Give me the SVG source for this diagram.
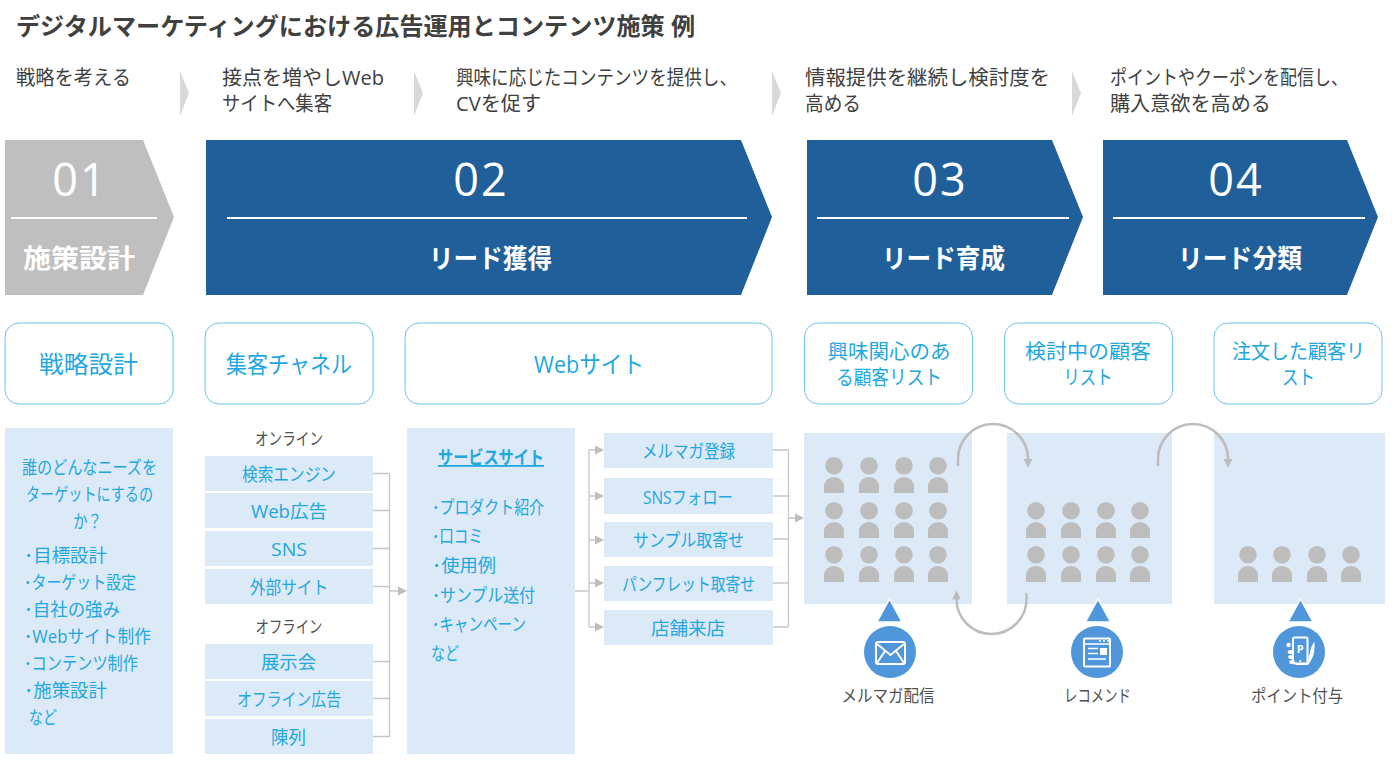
<svg xmlns="http://www.w3.org/2000/svg" width="1400" height="760" viewBox="0 0 1400 760">
<style>
text{font-family:"Open Sans","Noto Sans CJK JP",sans-serif;}
.t{font-size:24px;font-weight:700;fill:#404040}
.h{font-size:20px;fill:#404040}
.num{font-size:45px;fill:#fff;text-anchor:middle;letter-spacing:2px}
.lab{font-size:26px;font-weight:700;fill:#fff;text-anchor:middle}
.card{fill:#fff;stroke:#6cc6ec;stroke-width:1}
.ct{font-size:24px;fill:#22a7e0;text-anchor:middle}
.ct2{font-size:20px;fill:#22a7e0;text-anchor:middle}
.panel{fill:#dce9f6}
.b{font-size:18px;fill:#22a7e0}
.m{text-anchor:middle}
.g{font-size:17px;fill:#505050;text-anchor:middle}
.chev{fill:#d9d9d9}
.stage{fill:#215f9a}
.rule{stroke:#fff;stroke-width:2}
.wire{fill:none;stroke:#c6c6c6;stroke-width:1.3}
.loop{fill:none;stroke:#bdbdbd;stroke-width:2.5}
.ah{fill:#bdbdbd}
.p{fill:#bdbdbd}
.tri{fill:#4f96da;stroke:#fff;stroke-width:1.5;stroke-linejoin:miter}
.disc{fill:#4f96da}
.ico{fill:none;stroke:#fff;stroke-width:2}
.thin{fill:none;stroke:#fff;stroke-width:1.6}
</style>
<defs>
<g id="person"><circle cx="0" cy="-27.3" r="8.8"/><path d="M-10 0V-7A10 9 0 0 1 10 -7V0Z"/></g>
<polygon id="tip" points="-9,-4.5 0,0 -9,4.5"/>
</defs>

<text class="t" x="16" y="35" textLength="679" lengthAdjust="spacingAndGlyphs">デジタルマーケティングにおける広告運用とコンテンツ施策 例</text>

<g id="intro">
<text class="h" x="16" y="85" textLength="115" lengthAdjust="spacingAndGlyphs">戦略を考える</text>
<text class="h"><tspan x="222" y="85" textLength="162" lengthAdjust="spacingAndGlyphs">接点を増やしWeb</tspan><tspan x="222" y="111" textLength="110" lengthAdjust="spacingAndGlyphs">サイトへ集客</tspan></text>
<text class="h"><tspan x="456" y="85" textLength="281" lengthAdjust="spacingAndGlyphs">興味に応じたコンテンツを提供し、</tspan><tspan x="456" y="111" textLength="85" lengthAdjust="spacingAndGlyphs">CVを促す</tspan></text>
<text class="h"><tspan x="805" y="85" textLength="245" lengthAdjust="spacingAndGlyphs">情報提供を継続し検討度を</tspan><tspan x="805" y="111" textLength="56" lengthAdjust="spacingAndGlyphs">高める</tspan></text>
<text class="h"><tspan x="1110" y="85" textLength="238" lengthAdjust="spacingAndGlyphs">ポイントやクーポンを配信し、</tspan><tspan x="1110" y="111" textLength="161" lengthAdjust="spacingAndGlyphs">購入意欲を高める</tspan></text>
<polygon class="chev" points="180,71 189,93 180,116"/>
<polygon class="chev" points="414,71 423,93 414,116"/>
<polygon class="chev" points="772,71 781,93 772,116"/>
<polygon class="chev" points="1072,71 1081,93 1072,116"/>
</g>

<g id="stage-01">
<polygon points="5,140 143,140 174,217 143,295 5,295" fill="#bfbfbf"/>
<line class="rule" x1="11" y1="218" x2="157" y2="218"/>
<text class="num" x="80" y="196">01</text>
<text class="lab" x="79" y="268" textLength="112" lengthAdjust="spacingAndGlyphs">施策設計</text>
</g>
<g id="stage-02">
<polygon class="stage" points="206,140 741,140 772,217 741,295 206,295"/>
<line class="rule" x1="227" y1="218" x2="747" y2="218"/>
<text class="num" x="481" y="196">02</text>
<text class="lab" x="490.500" y="268" textLength="123" lengthAdjust="spacingAndGlyphs">リード獲得</text>
</g>
<g id="stage-03">
<polygon class="stage" points="807,140 1052,140 1083,217 1052,295 807,295"/>
<line class="rule" x1="817" y1="218" x2="1069" y2="218"/>
<text class="num" x="940" y="196">03</text>
<text class="lab" x="943.500" y="268" textLength="123" lengthAdjust="spacingAndGlyphs">リード育成</text>
</g>
<g id="stage-04">
<polygon class="stage" points="1103,140 1347,140 1378,217 1347,295 1103,295"/>
<line class="rule" x1="1113" y1="218" x2="1365" y2="218"/>
<text class="num" x="1236" y="196">04</text>
<text class="lab" x="1240" y="268" textLength="124" lengthAdjust="spacingAndGlyphs">リード分類</text>
</g>

<g id="card-strategy"><rect class="card" x="5" y="323" width="168" height="81" rx="14"/><text class="ct" x="88.500" y="373" textLength="99" lengthAdjust="spacingAndGlyphs">戦略設計</text></g>
<g id="card-channel"><rect class="card" x="205" y="323" width="168" height="81" rx="14"/><text class="ct" x="289" y="373" textLength="126" lengthAdjust="spacingAndGlyphs">集客チャネル</text></g>
<g id="card-web"><rect class="card" x="405" y="323" width="367" height="81" rx="14"/><text class="ct" x="589" y="373" textLength="110" lengthAdjust="spacingAndGlyphs">Webサイト</text></g>
<g id="card-interest"><rect class="card" x="804.500" y="323" width="168" height="81" rx="14"/><text class="ct2"><tspan x="889" y="359" textLength="123" lengthAdjust="spacingAndGlyphs">興味関心のあ</tspan><tspan x="889" y="385" textLength="106" lengthAdjust="spacingAndGlyphs">る顧客リスト</tspan></text></g>
<g id="card-consider"><rect class="card" x="1004.500" y="323" width="168" height="81" rx="14"/><text class="ct2"><tspan x="1088" y="359" textLength="126" lengthAdjust="spacingAndGlyphs">検討中の顧客</tspan><tspan x="1088" y="385" textLength="49" lengthAdjust="spacingAndGlyphs">リスト</tspan></text></g>
<g id="card-ordered"><rect class="card" x="1214" y="323" width="168" height="81" rx="14"/><text class="ct2"><tspan x="1298.500" y="359" textLength="133" lengthAdjust="spacingAndGlyphs">注文した顧客リ</tspan><tspan x="1298.500" y="385" textLength="33" lengthAdjust="spacingAndGlyphs">スト</tspan></text></g>

<g id="panel-plan">
<rect class="panel" x="5" y="428" width="168" height="326"/>
<text class="b" x="22" y="474" textLength="135" lengthAdjust="spacingAndGlyphs">誰のどんなニーズを</text>
<text class="b" x="26" y="501" textLength="127" lengthAdjust="spacingAndGlyphs">ターゲットにするの</text>
<text class="b" x="73" y="528" textLength="29" lengthAdjust="spacingAndGlyphs">か？</text>
<text class="b" x="24" y="562" textLength="83" lengthAdjust="spacingAndGlyphs">･目標設計</text>
<text class="b" x="24" y="589" textLength="112" lengthAdjust="spacingAndGlyphs">･ターゲット設定</text>
<text class="b" x="24" y="616" textLength="96" lengthAdjust="spacingAndGlyphs">･自社の強み</text>
<text class="b" x="24" y="643" textLength="127" lengthAdjust="spacingAndGlyphs">･Webサイト制作</text>
<text class="b" x="24" y="670" textLength="114" lengthAdjust="spacingAndGlyphs">･コンテンツ制作</text>
<text class="b" x="24" y="697" textLength="83" lengthAdjust="spacingAndGlyphs">･施策設計</text>
<text class="b" x="29" y="724" textLength="28" lengthAdjust="spacingAndGlyphs">など</text>
</g>

<g id="channels">
<text class="g" x="289" y="445" textLength="68" lengthAdjust="spacingAndGlyphs">オンライン</text>
<text class="g" x="289" y="633" textLength="67" lengthAdjust="spacingAndGlyphs">オフライン</text>
<g id="ch-search"><rect class="panel" x="205" y="456" width="168" height="35"/><text class="b m" x="289" y="481" textLength="94" lengthAdjust="spacingAndGlyphs">検索エンジン</text></g>
<g id="ch-ads"><rect class="panel" x="205" y="493" width="168" height="35"/><text class="b m" x="289" y="518" textLength="76" lengthAdjust="spacingAndGlyphs">Web広告</text></g>
<g id="ch-sns"><rect class="panel" x="205" y="531" width="168" height="35"/><text class="b m" x="289" y="556" textLength="36" lengthAdjust="spacingAndGlyphs">SNS</text></g>
<g id="ch-ext"><rect class="panel" x="205" y="569" width="168" height="35"/><text class="b m" x="289" y="594" textLength="78" lengthAdjust="spacingAndGlyphs">外部サイト</text></g>
<g id="ch-expo"><rect class="panel" x="205" y="644" width="168" height="35"/><text class="b m" x="288.500" y="669" textLength="55" lengthAdjust="spacingAndGlyphs">展示会</text></g>
<g id="ch-offads"><rect class="panel" x="205" y="681" width="168" height="35"/><text class="b m" x="289" y="706" textLength="104" lengthAdjust="spacingAndGlyphs">オフライン広告</text></g>
<g id="ch-display"><rect class="panel" x="205" y="719" width="168" height="35"/><text class="b m" x="288.500" y="744" textLength="35" lengthAdjust="spacingAndGlyphs">陳列</text></g>
</g>

<g id="panel-site">
<rect class="panel" x="407" y="428" width="168" height="326"/>
<text class="b" x="438" y="464" font-weight="700" text-decoration="underline" textLength="106" lengthAdjust="spacingAndGlyphs">サービスサイト</text>
<text class="b" x="432" y="514" textLength="112" lengthAdjust="spacingAndGlyphs">･プロダクト紹介</text>
<text class="b" x="432" y="543" textLength="51" lengthAdjust="spacingAndGlyphs">･口コミ</text>
<text class="b" x="432" y="572" textLength="64" lengthAdjust="spacingAndGlyphs">･使用例</text>
<text class="b" x="432" y="602" textLength="103" lengthAdjust="spacingAndGlyphs">･サンプル送付</text>
<text class="b" x="432" y="631" textLength="94" lengthAdjust="spacingAndGlyphs">･キャンペーン</text>
<text class="b" x="431" y="660" textLength="28" lengthAdjust="spacingAndGlyphs">など</text>
</g>

<g id="actions">
<g id="act-mail"><rect class="panel" x="604" y="433" width="169" height="35"/><text class="b m" x="688.500" y="458" textLength="93" lengthAdjust="spacingAndGlyphs">メルマガ登録</text></g>
<g id="act-sns"><rect class="panel" x="604" y="478" width="169" height="36"/><text class="b m" x="688" y="504" textLength="90" lengthAdjust="spacingAndGlyphs">SNSフォロー</text></g>
<g id="act-sample"><rect class="panel" x="604" y="522" width="169" height="35"/><text class="b m" x="688.500" y="547" textLength="111" lengthAdjust="spacingAndGlyphs">サンプル取寄せ</text></g>
<g id="act-leaflet"><rect class="panel" x="604" y="566" width="169" height="35"/><text class="b m" x="688.500" y="591" textLength="133" lengthAdjust="spacingAndGlyphs">パンフレット取寄せ</text></g>
<g id="act-store"><rect class="panel" x="604" y="610" width="169" height="35"/><text class="b m" x="688" y="635" textLength="74" lengthAdjust="spacingAndGlyphs">店舗来店</text></g>
</g>

<g id="segment-1">
<rect class="panel" x="804" y="433" width="168" height="171"/>
<g class="p">
<use href="#person" x="834" y="493"/><use href="#person" x="869" y="493"/><use href="#person" x="904" y="493"/><use href="#person" x="938" y="493"/>
<use href="#person" x="834" y="538"/><use href="#person" x="869" y="538"/><use href="#person" x="904" y="538"/><use href="#person" x="938" y="538"/>
<use href="#person" x="834" y="582"/><use href="#person" x="869" y="582"/><use href="#person" x="904" y="582"/><use href="#person" x="938" y="582"/>
</g>
<polygon class="tri" points="889.500,599 902,622 877,622"/>
<circle class="disc" cx="890" cy="652" r="26"/>
<rect class="ico" x="876" y="642" width="29" height="22" rx="2"/>
<path class="ico" d="M877 644L890.500 655L904 644M877 663L885 651M904 663L896 651"/>
<text class="g" x="888" y="702" textLength="93" lengthAdjust="spacingAndGlyphs">メルマガ配信</text>
</g>
<g id="segment-2">
<rect class="panel" x="1007" y="433" width="165" height="171"/>
<g class="p">
<use href="#person" x="1036" y="538"/><use href="#person" x="1071" y="538"/><use href="#person" x="1106" y="538"/><use href="#person" x="1140" y="538"/>
<use href="#person" x="1036" y="582"/><use href="#person" x="1071" y="582"/><use href="#person" x="1106" y="582"/><use href="#person" x="1140" y="582"/>
</g>
<polygon class="tri" points="1098,599 1110.500,622 1085.500,622"/>
<circle class="disc" cx="1097" cy="652" r="26"/>
<rect class="ico" x="1084" y="638.500" width="26" height="28" rx="1"/>
<path class="thin" d="M1084 644H1110M1088 648.500H1098M1088 653.500H1098M1088 659H1106"/>
<circle cx="1100" cy="641" r="1" fill="#fff"/><circle cx="1104" cy="641" r="1" fill="#fff"/><circle cx="1108" cy="641" r="1" fill="#fff"/>
<rect x="1100" y="648" width="7" height="7" fill="#fff"/>
<text class="g" x="1097.500" y="702" textLength="67" lengthAdjust="spacingAndGlyphs">レコメンド</text>
</g>
<g id="segment-3">
<rect class="panel" x="1214" y="433" width="171" height="171"/>
<g class="p">
<use href="#person" x="1248" y="582"/><use href="#person" x="1282" y="582"/><use href="#person" x="1317" y="582"/><use href="#person" x="1351" y="582"/>
</g>
<polygon class="tri" points="1300.500,599 1313,622 1288,622"/>
<circle class="disc" cx="1299" cy="652" r="26"/>
<rect class="ico" x="1293" y="637.500" width="14.500" height="26" rx="1.500"/>
<text x="1300.300" y="652.500" text-anchor="middle" font-size="11" font-weight="700" fill="#fff">P</text>
<circle cx="1300.300" cy="661" r="1" fill="#fff"/>
<path d="M1308.500 658C1310.500 652 1310.500 646 1314.500 642C1315 650 1314 658 1308 665L1296 665L1296 664H1306Z" fill="#fff"/>
<ellipse cx="1288.500" cy="645" rx="2.200" ry="2.200" fill="#fff"/><ellipse cx="1290.500" cy="652" rx="2.800" ry="2" fill="#fff"/><ellipse cx="1291" cy="657" rx="2.800" ry="2" fill="#fff"/><ellipse cx="1292" cy="662" rx="2.800" ry="2" fill="#fff"/>
<text class="g" x="1297" y="702" textLength="92" lengthAdjust="spacingAndGlyphs">ポイント付与</text>
</g>

<g id="connectors">
<path class="wire" d="M373 473.500H389.500M373 510.500H389.500M373 548.500H389.500M373 586.500H389.500M373 661.500H389.500M373 698.500H389.500M373 736.500H389.500M389.500 473.500V736.500M389.500 591H398"/>
<use class="ah" href="#tip" x="407" y="591"/>
<path class="wire" d="M575 591H589M589 450V627M589 450H595M589 496H595M589 540H595M589 583H595M589 627H595"/>
<use class="ah" href="#tip" x="604" y="450"/><use class="ah" href="#tip" x="604" y="496"/><use class="ah" href="#tip" x="604" y="540"/><use class="ah" href="#tip" x="604" y="583"/><use class="ah" href="#tip" x="604" y="627"/>
<path class="wire" d="M773 450H788.500M773 496H788.500M773 539H788.500M773 583H788.500M773 627H788.500M788.500 450V627M788.500 518H795"/>
<use class="ah" href="#tip" x="804" y="518"/>
<path class="loop" d="M958 466V459A35 35 0 0 1 1028 459"/>
<polygon class="ah" points="1023.700,459 1032.300,459 1028,468"/>
<path class="loop" d="M1026.500 593V599A35 35 0 0 1 956.500 599"/>
<polygon class="ah" points="952.300,599.500 960.700,599.500 956.500,590"/>
<path class="loop" d="M1158 466V459A35 35 0 0 1 1228 459"/>
<polygon class="ah" points="1223.500,459 1232.500,459 1228,468"/>
</g>
</svg>
